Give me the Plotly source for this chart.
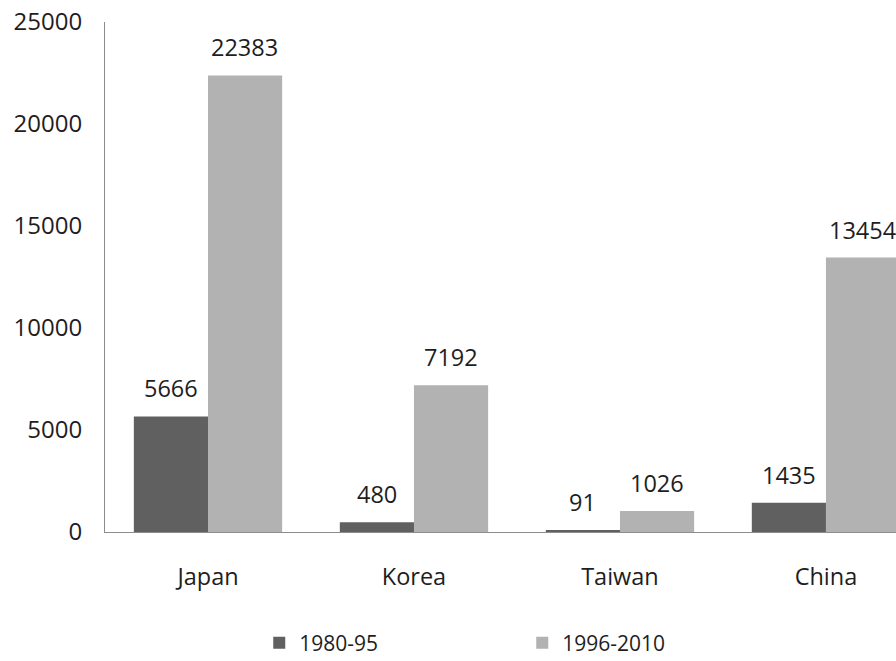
import plotly.graph_objects as go

categories = ["Japan", "Korea", "Taiwan", "China"]
series_names = ["1980-95", "1996-2010"]
values_1980_95 = [5666, 480, 91, 1435]
values_1996_2010 = [22383, 7192, 1026, 13454]
y_ticks = [0, 5000, 10000, 15000, 20000, 25000]

DARK = "#606060"
LIGHT = "#b2b2b2"
FONT = "Open Sans"
TXT = "#1e1e1e"

fig = go.Figure()
fig.add_trace(go.Bar(x=categories, y=values_1980_95, name=series_names[0],
                     marker=dict(color=DARK, line=dict(width=0))))
fig.add_trace(go.Bar(x=categories, y=values_1996_2010, name=series_names[1],
                     marker=dict(color=LIGHT, line=dict(width=0))))

annotations = []
for vals, dx in ((values_1980_95, -37), (values_1996_2010, 37)):
    for c, v in zip(categories, vals):
        annotations.append(dict(x=c, y=v, xref="x", yref="y", text=str(v),
                                showarrow=False, xshift=dx, yshift=10,
                                yanchor="bottom",
                                font=dict(family=FONT, size=23.5, color=TXT)))

fig.update_layout(
    width=896, height=661,
    margin=dict(l=105, r=0, t=22, b=129),
    paper_bgcolor="white", plot_bgcolor="white",
    barmode="group", bargap=0.28, bargroupgap=0,
    font=dict(family=FONT, size=23, color=TXT),
    showlegend=True,
    legend=dict(orientation="h", x=0.195, xanchor="left",
                yref="container", y=0.058, yanchor="top",
                entrywidth=218, entrywidthmode="pixels",
                font=dict(family=FONT, size=21, color=TXT)),
    annotations=annotations,
)
fig.update_xaxes(range=[-0.5, 3.34], showline=True, linecolor="#8c8c8c", linewidth=1,
                 showgrid=False, ticks="", ticklabelstandoff=24, fixedrange=True,
                 tickfont=dict(family=FONT, size=23.5, color=TXT))
fig.update_yaxes(range=[0, 25000], tickvals=y_ticks, ticktext=[str(t) for t in y_ticks],
                 showline=True, linecolor="#8c8c8c", linewidth=1, showgrid=False,
                 zeroline=False, ticks="", ticklabelstandoff=17,
                 tickfont=dict(family=FONT, size=24, color=TXT))

fig.write_html("out.html", config={"displayModeBar": False},
               post_script="document.body.style.margin='0';document.body.style.overflow='hidden';")
